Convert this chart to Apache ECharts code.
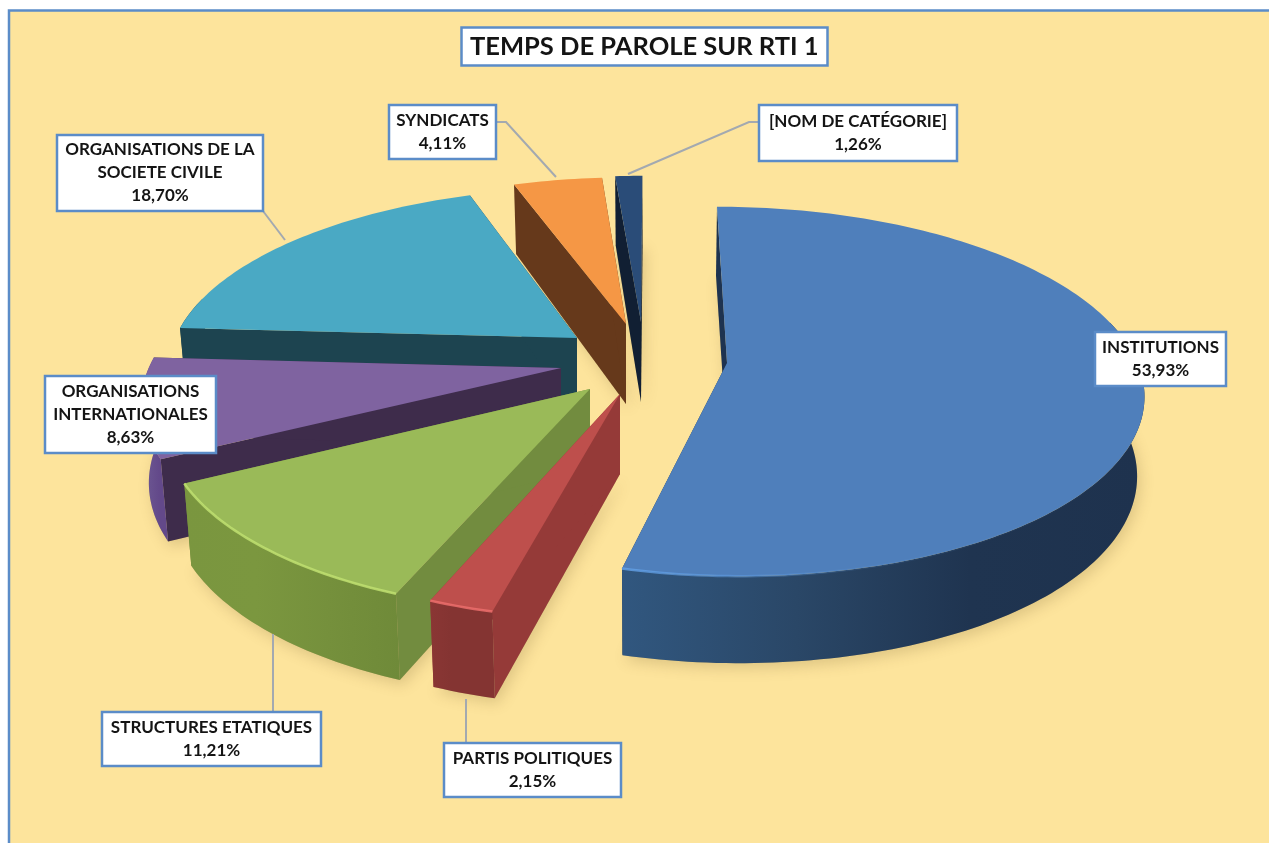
<!DOCTYPE html>
<html><head><meta charset="utf-8">
<style>html,body{margin:0;padding:0;background:#fff}#c{width:1269px;height:843px}</style>
<script src="https://cdn.jsdelivr.net/npm/echarts@6/dist/echarts.min.js"></script>
</head><body><div id="c"></div>
<script>
// ---- data (clockwise from 12 o'clock) ----
const chartTitle = 'TEMPS DE PAROLE SUR RTI 1';
const categories = ['INSTITUTIONS','PARTIS POLITIQUES','STRUCTURES ETATIQUES','ORGANISATIONS INTERNATIONALES','ORGANISATIONS DE LA SOCIETE CIVILE','SYNDICATS','[NOM DE CATÉGORIE]'];
const values = [53.93, 2.15, 11.21, 8.63, 18.70, 4.11, 1.26];
const labelLines = [['INSTITUTIONS'],['PARTIS POLITIQUES'],['STRUCTURES ETATIQUES'],['ORGANISATIONS','INTERNATIONALES'],['ORGANISATIONS DE LA','SOCIETE CIVILE'],['SYNDICATS'],['[NOM DE CATÉGORIE]']];

// ---- styling / layout (not data) ----
const view = {vx:652, vy:370, a:413, b:182.5, k:0.155, lowerX:0.985};
const apexPx = [[727,363],[620,394],[590,389],[561,368],[577,338],[626,324],[641,322]];
const topColors = ['#4f7fbb','#be4f4c','#9aba58','#7f63a0','#4aa9c4','#f59745','#2a4c78'];
const cutColors = ['#1e3350','#953a38','#728c3f','#3e2c4b','#1d4450','#66391b','#111f33'];
const wallStops = [
  ['#31577f','#2a4767','#1f3450','#1e324e'],
  ['#8a3634','#843432','#843432','#843432'],
  ['#7a963f','#7b973f','#75903c','#6f8a39'],
  ['#6f5695','#69528f','#63498a','#63498a'],
  ['#1d4450','#1d4450','#1d4450','#1d4450'],
  ['#66391b','#66391b','#66391b','#66391b'],
  ['#111f33','#111f33','#111f33','#111f33']];
const rimColors = ['#62a0e6','#ec6e6c','#bfe070',null,null,null,null];
const drawOrder = [6,5,4,3,2,1,0];
const boxes = [
  {x:1095,y:332,w:131,h:54,leader:null},
  {x:444,y:743,w:177,h:54,leader:[[466,743],[466,699]]},
  {x:102,y:712,w:219,h:54,leader:[[273,712],[273,634]]},
  {x:45,y:376,w:171,h:77,leader:null},
  {x:57,y:135,w:206,h:76,leader:[[263,211],[285,240]]},
  {x:389,y:105,w:107,h:54,leader:[[496,122],[506,122],[556,177]]},
  {x:759,y:105,w:198,h:56,leader:[[759,122],[749,122],[628,174]]}
];

// ---- geometry: slices are built from values ----
const total = values.reduce((s,v)=>s+v,0);
const bounds = []; values.reduce((acc,v)=>{bounds.push([acc,acc+v]);return acc+v;},0);
function project(P){const s=1/(1+view.k*P[1]);return [view.vx+P[0]*view.a*s, view.vy-P[1]*view.b*s];}
function planeApex(px){const d=view.vy-px[1];const Y=d/(view.b-view.k*d);return [(px[0]-view.vx)*(1+view.k*Y)/view.a,Y];}
function lower(p,cosT){return [view.vx+(p[0]-view.vx)*view.lowerX, p[1]+78-9*cosT];}
function sliceGeom(i){
  const A=planeApex(apexPx[i]);
  const t0=bounds[i][0]/total*2*Math.PI, t1=bounds[i][1]/total*2*Math.PI;
  const n=Math.max(6,Math.ceil((t1-t0)/0.02)), top=[], low=[], cosines=[];
  for(let j=0;j<=n;j++){const t=t0+(t1-t0)*j/n;
    const p=project([A[0]+Math.sin(t),A[1]+Math.cos(t)]);top.push(p);low.push(lower(p,Math.cos(t)));cosines.push(Math.cos(t));}
  const apex=project(A), apexLow=[apex[0],apex[1]+80];
  return {top,low,apex,apexLow,cosines};
}
const hGrad=(stops)=>({type:'linear',x:0,y:0,x2:1,y2:0,colorStops:stops.map((c,i)=>({offset:i/(stops.length-1),color:c}))});
const poly=(pts,fill,extra)=>({type:'polygon',shape:{points:pts},style:Object.assign({fill,stroke:null},extra||{})});

function renderShadow(params,api){
  const i=api.value(0), g=sliceGeom(i);
  return poly([g.apexLow].concat(g.low),'rgba(150,130,80,0.55)',{shadowBlur:14,shadowColor:'rgba(110,90,40,0.6)',shadowOffsetX:3,shadowOffsetY:5,opacity:0.65});
}
function renderSlice(params,api){
  const i=api.value(0), g=sliceGeom(i), c=[];
  const a=g.top[0],al=g.low[0],b=g.top[g.top.length-1],bl=g.low[g.low.length-1];
  c.push(poly([g.apex,a,al,g.apexLow],cutColors[i]));
  c.push(poly([g.apex,b,bl,g.apexLow],cutColors[i]));
  const wt=g.top.filter((p,j)=>g.cosines[j]<0.25), wl=g.low.filter((p,j)=>g.cosines[j]<0.25);
  if(wt.length>1) c.push(poly(wt.concat(wl.slice().reverse()),hGrad(wallStops[i])));
  c.push(poly([g.apex].concat(g.top),topColors[i]));
  if(rimColors[i]){
    const front=g.top.filter((p,j)=>g.cosines[j]<-0.35);
    const stops=i===0?[{offset:0,color:'rgba(98,160,230,0)'},{offset:0.55,color:'rgba(98,160,230,0.15)'},{offset:1,color:rimColors[i]}]
      :[{offset:0,color:rimColors[i]},{offset:1,color:rimColors[i]}];
    c.push({type:'polyline',shape:{points:front},style:{fill:null,stroke:{type:'linear',x:1,y:0,x2:0,y2:0,colorStops:stops},lineWidth:2.5,opacity:0.85}});
  }
  return {type:'group',children:c};
}

const pct=v=>v.toFixed(2).replace('.',',')+'%';
const graphicEls=[{type:'rect',z:-1,shape:{x:9,y:10.5,width:1270,height:850},style:{fill:'#fde49c',stroke:'#5b8cc8',lineWidth:2.5}}];
boxes.forEach((bx,i)=>{
  if(bx.leader) graphicEls.push({type:'polyline',z:50,shape:{points:bx.leader},style:{fill:null,stroke:'#a3a9b0',lineWidth:2}});
  graphicEls.push({type:'rect',z:60,shape:{x:bx.x,y:bx.y,width:bx.w,height:bx.h},style:{fill:'#ffffff',stroke:'#5b8cc8',lineWidth:2.5}});
  graphicEls.push({type:'text',z:61,x:bx.x+bx.w/2,y:bx.y+bx.h/2,style:{
    text:labelLines[i].concat([pct(values[i])]).join('\n'),
    align:'center',verticalAlign:'middle',fontFamily:'Lato',fontWeight:'bold',fontSize:17,lineHeight:23,fill:'#141414'}});
});

const chart=echarts.init(document.getElementById('c'),null,{renderer:'canvas'});
chart.setOption({
  animation:false,
  backgroundColor:'#ffffff',
  title:{text:chartTitle,left:461,top:27,padding:[6,9,6,9],borderWidth:2.5,borderColor:'#5b8cc8',backgroundColor:'#ffffff',
    textStyle:{fontFamily:'Lato',fontWeight:'bold',fontSize:25.5,color:'#141414',lineHeight:27}},
  tooltip:{show:false},
  graphic:{elements:graphicEls},
  series:[
    {type:'custom',coordinateSystem:'none',renderItem:renderShadow,silent:true,z:2,data:drawOrder.map(i=>[i,values[i]])},
    {type:'custom',coordinateSystem:'none',name:chartTitle,renderItem:renderSlice,silent:true,z:3,data:drawOrder.map(i=>({name:categories[i],value:[i,values[i]]}))}
  ]
});
</script></body></html>
